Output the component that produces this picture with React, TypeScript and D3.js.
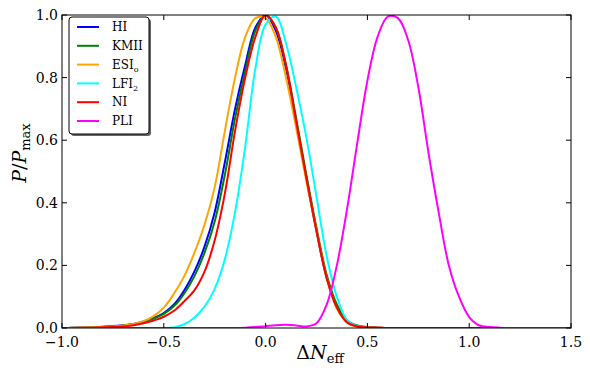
import React from "react";
import * as d3 from "d3";

// shared grid of Delta N_eff values
const xGrid = [
  -1.0, -0.95, -0.9, -0.85, -0.8, -0.75, -0.7, -0.65, -0.6, -0.55,
  -0.5, -0.45, -0.4, -0.35, -0.3, -0.25, -0.2, -0.15, -0.1, -0.05,
  0.0, 0.05, 0.1, 0.15, 0.2, 0.25, 0.3, 0.35, 0.4, 0.45,
  0.5, 0.55, 0.6, 0.65, 0.7, 0.75, 0.8, 0.85, 0.9, 0.95,
  1.0, 1.05, 1.1, 1.15, 1.2, 1.25, 1.3, 1.35, 1.4, 1.45, 1.5,
];

const hiVals = [
  0, 0.0005, 0.001, 0.002, 0.004, 0.006, 0.009, 0.013, 0.021, 0.032,
  0.048, 0.075, 0.12, 0.18, 0.26, 0.37, 0.53, 0.7, 0.84, 0.96,
  1.0, 0.95, 0.83, 0.66, 0.48, 0.31, 0.16, 0.068, 0.02, 0.006,
  0.002, 0.001, 0, 0, 0, 0, 0, 0, 0, 0,
  0, 0, 0, 0, 0, 0, 0, 0, 0, 0, 0,
];

const kmiiVals = [
  0, 0.0005, 0.001, 0.002, 0.003, 0.005, 0.008, 0.012, 0.019, 0.03,
  0.045, 0.07, 0.11, 0.165, 0.24, 0.34, 0.49, 0.67, 0.82, 0.95,
  1.0, 0.96, 0.84, 0.67, 0.49, 0.32, 0.17, 0.075, 0.024, 0.008,
  0.003, 0.001, 0, 0, 0, 0, 0, 0, 0, 0,
  0, 0, 0, 0, 0, 0, 0, 0, 0, 0, 0,
];

const esiVals = [
  0, 0.0005, 0.001, 0.002, 0.003, 0.005, 0.008, 0.013, 0.022, 0.038,
  0.065, 0.11, 0.165, 0.24, 0.33, 0.45, 0.63, 0.8, 0.93, 0.99,
  0.99, 0.93, 0.8, 0.64, 0.47, 0.31, 0.16, 0.062, 0.018, 0.005,
  0.002, 0.001, 0, 0, 0, 0, 0, 0, 0, 0,
  0, 0, 0, 0, 0, 0, 0, 0, 0, 0, 0,
];

const lfiVals = [
  0, 0, 0, 0, 0, 0, 0, 0, 0, 0,
  0, 0.002, 0.012, 0.033, 0.068, 0.125, 0.22, 0.37, 0.58, 0.83,
  0.97, 0.995, 0.91, 0.77, 0.61, 0.42, 0.23, 0.1, 0.025, 0.006,
  0.001, 0, 0, 0, 0, 0, 0, 0, 0, 0,
  0, 0, 0, 0, 0, 0, 0, 0, 0, 0, 0,
];

const niVals = [
  0, 0.0003, 0.0006, 0.001, 0.002, 0.003, 0.005, 0.009, 0.015, 0.024,
  0.036, 0.055, 0.085, 0.12, 0.18, 0.28, 0.43, 0.63, 0.8, 0.93,
  1.0, 0.96, 0.84, 0.66, 0.48, 0.31, 0.16, 0.065, 0.018, 0.005,
  0.002, 0.001, 0, 0, 0, 0, 0, 0, 0, 0,
  0, 0, 0, 0, 0, 0, 0, 0, 0, 0, 0,
];

const pliVals = [
  0, 0, 0, 0, 0, 0, 0, 0, 0, 0,
  0, 0, 0, 0, 0, 0, 0, 0, 0.001, 0.003,
  0.006, 0.009, 0.01, 0.008, 0.005, 0.015, 0.075, 0.2, 0.38, 0.59,
  0.79, 0.93, 0.995, 0.99, 0.92, 0.77, 0.56, 0.37, 0.2, 0.1,
  0.035, 0.008, 0.003, 0.001, 0, 0, 0, 0, 0, 0, 0,
];

const seriesNames = ["HI", "KMII", "ESI", "LFI", "NI", "PLI"];
const seriesSubs = ["", "", "o", "2", "", ""];
const seriesColors = ["#0000ff", "#008000", "#ffa500", "#00ffff", "#ff0000", "#ff00ff"];
const seriesValues = [hiVals, kmiiVals, esiVals, lfiVals, niVals, pliVals];

const xTicks = [-1.0, -0.5, 0.0, 0.5, 1.0, 1.5];
const yTicks = [0.0, 0.2, 0.4, 0.6, 0.8, 1.0];

const W = 590;
const H = 385;
const plot = { left: 62, right: 571, top: 15, bottom: 328 };
const tickFont = "'DejaVu Serif', serif";

export default function App() {
  const x = d3.scaleLinear().domain([-1, 1.5]).range([plot.left, plot.right]);
  const y = d3.scaleLinear().domain([0, 1]).range([plot.bottom, plot.top]);
  const fmt = d3.format(".1f");

  const line = d3
    .line<number>()
    .x((_, i) => x(xGrid[i]))
    .y((d) => y(d))
    .curve(d3.curveCatmullRom.alpha(0.5));

  const legX = 69;
  const legY = 17;
  const legW = 80;
  const legH = 117;
  const rowH = 18.8;

  return (
    <svg
      width={W}
      height={H}
      style={{ position: "absolute", left: 0, top: 0, background: "white" }}
    >
      <defs>
        <clipPath id="plotClip">
          <rect
            x={plot.left}
            y={plot.top}
            width={plot.right - plot.left}
            height={plot.bottom - plot.top}
          />
        </clipPath>
      </defs>

      <g clipPath="url(#plotClip)">
        {seriesValues.map((vals, k) => (
          <path
            key={seriesNames[k]}
            d={line(vals) || ""}
            fill="none"
            stroke={seriesColors[k]}
            strokeWidth={2}
            strokeLinejoin="round"
          />
        ))}
      </g>

      {/* frame */}
      <rect
        x={plot.left}
        y={plot.top}
        width={plot.right - plot.left}
        height={plot.bottom - plot.top}
        fill="none"
        stroke="black"
        strokeWidth={1}
      />

      {/* x ticks, inward on bottom and top */}
      {xTicks.map((t) => (
        <g key={"x" + t}>
          <line x1={x(t)} x2={x(t)} y1={plot.bottom} y2={plot.bottom - 5} stroke="black" />
          <line x1={x(t)} x2={x(t)} y1={plot.top} y2={plot.top + 5} stroke="black" />
          <text
            x={x(t)}
            y={347}
            textAnchor="middle"
            fontFamily={tickFont}
            fontSize={14}
          >
            {fmt(t)}
          </text>
        </g>
      ))}

      {/* y ticks, inward on left and right */}
      {yTicks.map((t) => (
        <g key={"y" + t}>
          <line x1={plot.left} x2={plot.left + 5} y1={y(t)} y2={y(t)} stroke="black" />
          <line x1={plot.right} x2={plot.right - 5} y1={y(t)} y2={y(t)} stroke="black" />
          <text
            x={58}
            y={y(t)}
            dy="0.36em"
            textAnchor="end"
            fontFamily={tickFont}
            fontSize={14}
          >
            {fmt(t)}
          </text>
        </g>
      ))}

      {/* axis labels */}
      <text
        x={320}
        y={359}
        textAnchor="middle"
        fontFamily={tickFont}
        fontSize={19}
      >
        Δ<tspan fontStyle="italic">N</tspan>
        <tspan fontSize={13} dy={4}>eff</tspan>
      </text>
      <text
        transform="translate(26,153) rotate(-90)"
        textAnchor="middle"
        fontFamily={tickFont}
        fontSize={19}
      >
        <tspan fontStyle="italic">P</tspan>/<tspan fontStyle="italic">P</tspan>
        <tspan fontSize={13} dy={4}>max</tspan>
      </text>

      {/* legend */}
      <rect x={legX + 2} y={legY + 2} width={legW} height={legH} rx={3} fill="#666" />
      <rect
        x={legX}
        y={legY}
        width={legW}
        height={legH}
        rx={3}
        fill="white"
        stroke="black"
        strokeWidth={1}
      />
      {seriesNames.map((name, k) => {
        const cy = legY + 10 + k * rowH;
        return (
          <g key={"leg" + name}>
            <line x1={77} x2={99} y1={cy} y2={cy} stroke={seriesColors[k]} strokeWidth={2} />
            <text x={112} y={cy} dy="0.35em" fontFamily={tickFont} fontSize={12}>
              {name}
              {seriesSubs[k] && (
                <tspan fontSize={8} dy={3}>
                  {seriesSubs[k]}
                </tspan>
              )}
            </text>
          </g>
        );
      })}
    </svg>
  );
}
